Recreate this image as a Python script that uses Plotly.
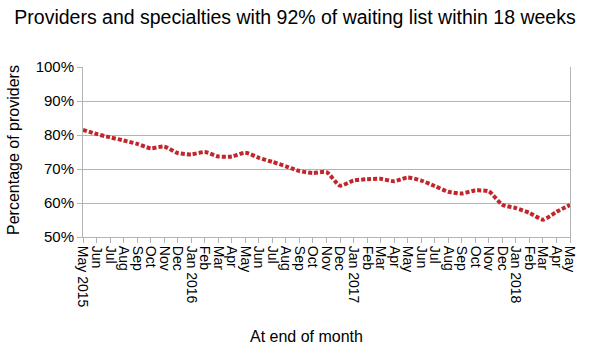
import plotly.graph_objects as go

months = ["May 2015", "Jun", "Jul", "Aug", "Sep", "Oct", "Nov", "Dec",
          "Jan 2016", "Feb", "Mar", "Apr", "May", "Jun", "Jul", "Aug", "Sep", "Oct", "Nov", "Dec",
          "Jan 2017", "Feb", "Mar", "Apr", "May", "Jun", "Jul", "Aug", "Sep", "Oct", "Nov", "Dec",
          "Jan 2018", "Feb", "Mar", "Apr", "May"]
values = [81.5, 80.3, 79.3, 78.4, 77.4, 76.1, 76.6, 74.7,
          74.3, 75.0, 73.7, 73.7, 74.8, 73.3, 72.1, 70.8, 69.4, 68.8, 69.1, 65.1,
          66.6, 67.0, 67.1, 66.4, 67.5, 66.6, 65.0, 63.3, 62.8, 63.7, 63.4, 59.5,
          58.5, 57.1, 55.1, 57.4, 59.4]
y_ticks = [50, 60, 70, 80, 90, 100]
y_ticklabels = ["50%", "60%", "70%", "80%", "90%", "100%"]

x = list(range(len(months)))
font = "Liberation Sans, Arial, sans-serif"

fig = go.Figure()
fig.add_trace(go.Scatter(
    x=x, y=values, mode="lines",
    line=dict(color="#c0262b", width=4, dash="4px,2px", shape="spline", smoothing=0.6),
    hoverinfo="skip", showlegend=False,
))

fig.update_layout(
    width=590, height=350,
    margin=dict(l=83, r=13, t=67, b=113),
    paper_bgcolor="white", plot_bgcolor="white",
    font=dict(family=font, color="black", size=14),
    title=dict(text="Providers and specialties with 92% of waiting list within 18 weeks",
               x=0.5, xanchor="center", y=0.95, yanchor="middle",
               font=dict(family=font, size=19.5, color="black")),
    xaxis=dict(
        range=[0, 36], tickmode="array", tickvals=x, ticktext=months,
        tickangle=90, ticks="outside", ticklen=5, tickcolor="#b3b3b3",
        showline=True, linecolor="#b3b3b3", linewidth=1,
        showgrid=False, zeroline=False,
        tickfont=dict(family=font, size=14, color="black"),
    ),
    yaxis=dict(
        range=[50, 100], tickmode="array", tickvals=y_ticks, ticktext=y_ticklabels,
        ticks="outside", ticklen=5, tickcolor="#b3b3b3",
        showline=True, linecolor="#b3b3b3", linewidth=1, mirror=True,
        showgrid=True, gridcolor="#b3b3b3", gridwidth=1, zeroline=False,
        tickfont=dict(family=font, size=15, color="black"),
    ),
    annotations=[
        dict(text="At end of month", xref="paper", yref="paper", x=0.4595, y=-0.588,
             xanchor="center", yanchor="middle", showarrow=False,
             font=dict(family=font, size=16, color="black")),
        dict(text="Percentage of providers", xref="paper", yref="paper", x=-0.1417, y=0.512,
             xanchor="center", yanchor="middle", showarrow=False, textangle=-90,
             font=dict(family=font, size=16, color="black")),
    ],
)

fig.write_html("out.html")
